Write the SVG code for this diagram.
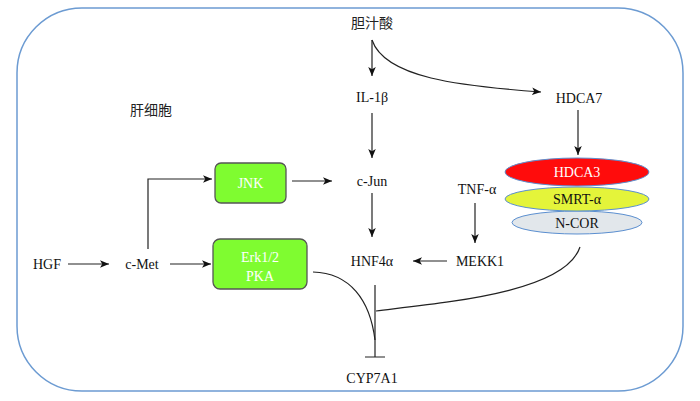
<svg xmlns="http://www.w3.org/2000/svg" width="700" height="401" viewBox="0 0 700 401">
<style>
.t{font-family:"Liberation Serif","Times New Roman",serif;font-size:14px;fill:#111;text-anchor:middle;dominant-baseline:central}
.w{fill:#fff}
.cn{font-family:"Noto Sans CJK SC","Noto Sans",sans-serif;font-size:14px;fill:#222;text-anchor:middle;dominant-baseline:central}
.ln{fill:none;stroke:#222;stroke-width:1.2}
.box{fill:#7ffc30;stroke:#555;stroke-width:1.3}
.el{stroke:#5b8fd0;stroke-width:1}
</style>
<defs>
<marker id="ah" viewBox="0 0 10 10" refX="10" refY="5" markerWidth="9" markerHeight="9" markerUnits="userSpaceOnUse" orient="auto">
<path d="M0,0.8 L10,5 L0,9.2 L2.5,5 Z" fill="#111"/>
</marker>
</defs>
<rect id="cell" x="17" y="8" width="666" height="383" rx="65" ry="65" fill="none" stroke="#6c9bd2" stroke-width="1.5"/>
<text class="cn" x="151" y="109">肝细胞</text>
<g id="connectors">
<path class="ln" d="M372,40 L372,76" marker-end="url(#ah)"/>
<path class="ln" d="M372,40 C385,78 460,86 541,92" marker-end="url(#ah)"/>
<path class="ln" d="M372,113 L372,158" marker-end="url(#ah)"/>
<path class="ln" d="M578,110 L578,155" marker-end="url(#ah)"/>
<path class="ln" d="M372,193 L372,237" marker-end="url(#ah)"/>
<path class="ln" d="M475,203 L475,243" marker-end="url(#ah)"/>
<path class="ln" d="M447,261 L413,261" marker-end="url(#ah)"/>
<path class="ln" d="M68,264 L109,264" marker-end="url(#ah)"/>
<path class="ln" d="M170,264 L211,264" marker-end="url(#ah)"/>
<path class="ln" stroke="#555" d="M148,249 L148,179 L212,179" marker-end="url(#ah)"/>
<path class="ln" d="M292,181 L332,181" marker-end="url(#ah)"/>
<path class="ln" stroke="#444" d="M375,285 L375,357 M365,357 L385,357"/>
<path class="ln" d="M313,272 C350,273 370,300 375,340"/>
<path class="ln" d="M580,247 C565,292 450,302 376,311"/>
</g>
<g id="bile"><text class="cn" x="372" y="22">胆汁酸</text></g>
<g id="il1b"><text class="t" x="372" y="97">IL-1β</text></g>
<g id="hdca7"><text class="t" x="579" y="98">HDCA7</text></g>
<g id="cjun"><text class="t" x="372" y="181">c-Jun</text></g>
<g id="tnfa"><text class="t" x="477" y="189">TNF-α</text></g>
<g id="hnf4a"><text class="t" x="372" y="261">HNF4α</text></g>
<g id="mekk1"><text class="t" x="480" y="261">MEKK1</text></g>
<g id="hgf"><text class="t" x="47" y="264">HGF</text></g>
<g id="cmet"><text class="t" x="142" y="264">c-Met</text></g>
<g id="cyp7a1"><text class="t" x="372" y="378">CYP7A1</text></g>
<g id="jnk">
<rect class="box" x="215" y="163" width="71" height="40" rx="6"/>
<text class="t w" x="250.5" y="183">JNK</text>
</g>
<g id="erk">
<rect class="box" x="213" y="239" width="94" height="50" rx="7"/>
<text class="t w" x="260" y="257">Erk1/2</text>
<text class="t w" x="260" y="276">PKA</text>
</g>
<g id="ncor">
<ellipse class="el" cx="577" cy="222.5" rx="65" ry="11.5" fill="#e2e7eb"/>
<text class="t" x="577" y="223">N-COR</text>
</g>
<g id="smrt">
<ellipse class="el" cx="577" cy="199" rx="72" ry="12" fill="#e4f43a"/>
<text class="t" x="577" y="199.5">SMRT-α</text>
</g>
<g id="hdca3">
<ellipse class="el" cx="577" cy="172" rx="72" ry="14" fill="#ff0c0c"/>
<text class="t w" x="577" y="172.5">HDCA3</text>
</g>
</svg>
